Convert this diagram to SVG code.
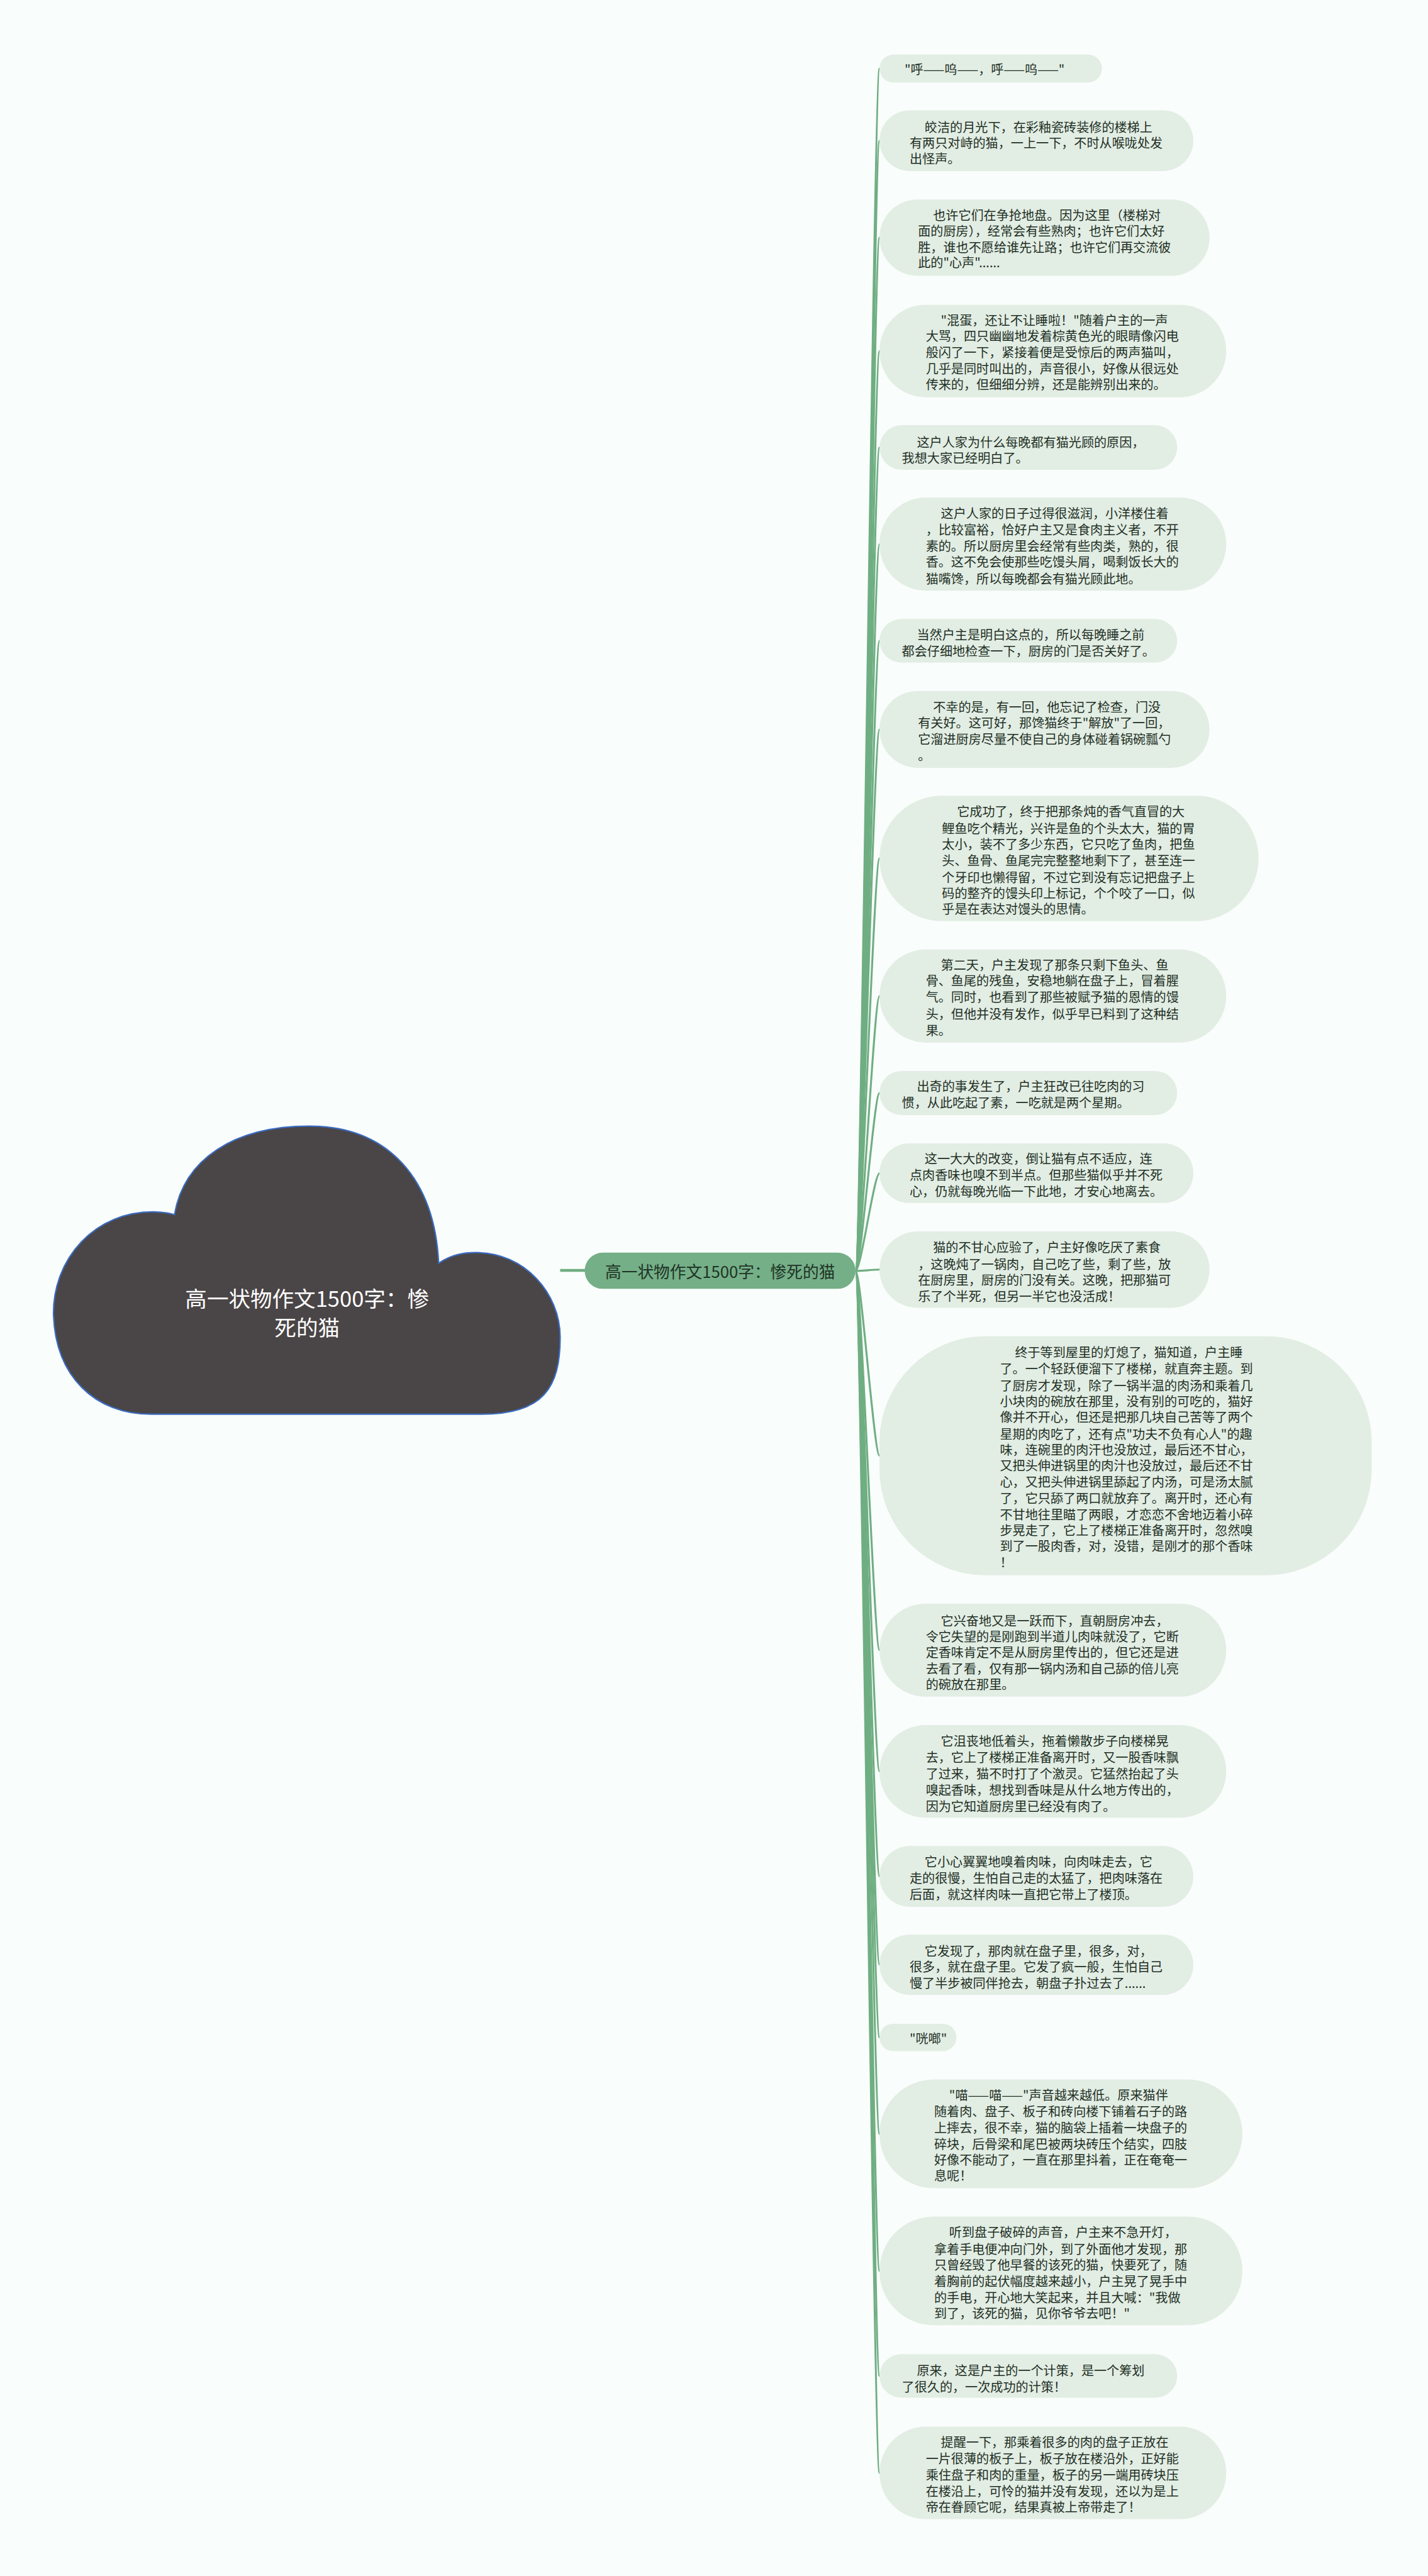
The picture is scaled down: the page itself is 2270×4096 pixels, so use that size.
<svg xmlns="http://www.w3.org/2000/svg" width="2270" height="4096" viewBox="0 0 2270 4096">
<defs>
<style>
.bg{fill:#f9fdfb}
.leaf rect{fill:#e2ede4}
.leaf text{font-family:"Noto Sans CJK SC","Noto Sans",sans-serif;font-size:22.7px;fill:#1f3024;dominant-baseline:central}
.conn path{fill:none;stroke:#6fae82;stroke-width:3.5}
.conn line{stroke:#6fae82;stroke-width:5}
.center rect{fill:#74af87}
.center text{font-family:"Noto Sans CJK SC","Noto Sans",sans-serif;font-size:29px;fill:#1f3326;dominant-baseline:central;text-anchor:middle}
.root path{fill:#4a4546;stroke:#3a6bbf;stroke-width:2.5}
.root text{font-family:"Noto Sans CJK SC","Noto Sans",sans-serif;font-size:39px;fill:#ffffff;dominant-baseline:central;text-anchor:middle}
</style>
</defs>
<rect class="bg" x="0" y="0" width="2270" height="4096"/>
<g transform="scale(0.886)">
<g class="conn" id="connectors">
<line x1="1005" y1="2280" x2="1050" y2="2280"/>
<path d="M1535 2281 C1545 2281 1568 123 1578 123"/>
<path d="M1535 2281 C1545 2281 1568 252.5 1578 252.5"/>
<path d="M1535 2281 C1545 2281 1568 426.5 1578 426.5"/>
<path d="M1535 2281 C1545 2281 1568 630 1578 630"/>
<path d="M1535 2281 C1545 2281 1568 803 1578 803"/>
<path d="M1535 2281 C1545 2281 1568 976.5 1578 976.5"/>
<path d="M1535 2281 C1545 2281 1568 1150 1578 1150"/>
<path d="M1535 2281 C1545 2281 1568 1309 1578 1309"/>
<path d="M1535 2281 C1545 2281 1568 1540.5 1578 1540.5"/>
<path d="M1535 2281 C1545 2281 1568 1787.5 1578 1787.5"/>
<path d="M1535 2281 C1545 2281 1568 1961.5 1578 1961.5"/>
<path d="M1535 2281 C1545 2281 1568 2105.5 1578 2105.5"/>
<path d="M1535 2281 C1545 2281 1568 2278.5 1578 2278.5"/>
<path d="M1535 2281 C1545 2281 1568 2612.5 1578 2612.5"/>
<path d="M1535 2281 C1545 2281 1568 2961.5 1578 2961.5"/>
<path d="M1535 2281 C1545 2281 1568 3179 1578 3179"/>
<path d="M1535 2281 C1545 2281 1568 3367.5 1578 3367.5"/>
<path d="M1535 2281 C1545 2281 1568 3526 1578 3526"/>
<path d="M1535 2281 C1545 2281 1568 3656.5 1578 3656.5"/>
<path d="M1535 2281 C1545 2281 1568 3829.5 1578 3829.5"/>
<path d="M1535 2281 C1545 2281 1568 4075.5 1578 4075.5"/>
<path d="M1535 2281 C1545 2281 1568 4264 1578 4264"/>
<path d="M1535 2281 C1545 2281 1568 4438 1578 4438"/>
</g>
<g class="root" id="root">
<path d="M271 2538 C170 2538 100 2470 96 2360 C94 2260 170 2172 280 2175 Q300 2176 313 2180 C330 2080 420 2021 555 2021 C700 2021 780 2120 787 2267 C810 2252 830 2248 855 2248 C940 2248 1005 2320 1005 2400 C1005 2490 975 2538 864 2538 Z"/>
<text x="551"><tspan x="551" y="2328">高一状物作文1500字：惨</tspan><tspan x="551" y="2380">死的猫</tspan></text>
</g>
<g class="center" id="center">
<rect x="1049" y="2248" width="486" height="65" rx="32.5"/>
<text x="1292" y="2281">高一状物作文1500字：惨死的猫</text>
</g>
<g class="leaf" id="n1"><rect x="1578" y="98" width="399" height="50" rx="25"/>
<text><tspan x="1623" y="123">"呼——呜——，呼——呜——"</tspan></text></g>
<g class="leaf" id="n2"><rect x="1578" y="198" width="563" height="109" rx="54.5"/>
<text><tspan x="1659" y="227">皎洁的月光下，在彩釉瓷砖装修的楼梯上</tspan><tspan x="1632" y="255">有两只对峙的猫，一上一下，不时从喉咙处发</tspan><tspan x="1632" y="283">出怪声。</tspan></text></g>
<g class="leaf" id="n3"><rect x="1578" y="358" width="592" height="137" rx="68.5"/>
<text><tspan x="1674" y="385">也许它们在争抢地盘。因为这里（楼梯对</tspan><tspan x="1647" y="413">面的厨房），经常会有些熟肉；也许它们太好</tspan><tspan x="1647" y="443">胜，谁也不愿给谁先让路；也许它们再交流彼</tspan><tspan x="1647" y="470">此的"心声"......</tspan></text></g>
<g class="leaf" id="n4"><rect x="1578" y="547" width="622" height="166" rx="83"/>
<text><tspan x="1688" y="573">"混蛋，还让不让睡啦！"随着户主的一声</tspan><tspan x="1661" y="602">大骂，四只幽幽地发着棕黄色光的眼睛像闪电</tspan><tspan x="1661" y="631">般闪了一下，紧接着便是受惊后的两声猫叫，</tspan><tspan x="1661" y="660">几乎是同时叫出的，声音很小，好像从很远处</tspan><tspan x="1661" y="689">传来的，但细细分辨，还是能辨别出来的。</tspan></text></g>
<g class="leaf" id="n5"><rect x="1578" y="763" width="534" height="80" rx="40"/>
<text><tspan x="1645" y="792">这户人家为什么每晚都有猫光顾的原因，</tspan><tspan x="1618" y="820">我想大家已经明白了。</tspan></text></g>
<g class="leaf" id="n6"><rect x="1578" y="893" width="622" height="167" rx="83.5"/>
<text><tspan x="1688" y="920">这户人家的日子过得很滋润，小洋楼住着</tspan><tspan x="1661" y="949">，比较富裕，恰好户主又是食肉主义者，不开</tspan><tspan x="1661" y="978">素的。所以厨房里会经常有些肉类，熟的，很</tspan><tspan x="1661" y="1007">香。这不免会使那些吃馒头屑，喝剩饭长大的</tspan><tspan x="1661" y="1037">猫嘴馋，所以每晚都会有猫光顾此地。</tspan></text></g>
<g class="leaf" id="n7"><rect x="1578" y="1111" width="534" height="78" rx="39"/>
<text><tspan x="1645" y="1138">当然户主是明白这点的，所以每晚睡之前</tspan><tspan x="1618" y="1167">都会仔细地检查一下，厨房的门是否关好了。</tspan></text></g>
<g class="leaf" id="n8"><rect x="1578" y="1240" width="592" height="138" rx="69"/>
<text><tspan x="1674" y="1267">不幸的是，有一回，他忘记了检查，门没</tspan><tspan x="1647" y="1296">有关好。这可好，那馋猫终于"解放"了一回，</tspan><tspan x="1647" y="1325">它溜进厨房尽量不使自己的身体碰着锅碗瓢勺</tspan><tspan x="1647" y="1354">。</tspan></text></g>
<g class="leaf" id="n9"><rect x="1578" y="1428" width="680" height="225" rx="112.5"/>
<text><tspan x="1717" y="1455">它成功了，终于把那条炖的香气直冒的大</tspan><tspan x="1690" y="1485">鲤鱼吃个精光，兴许是鱼的个头太大，猫的胃</tspan><tspan x="1690" y="1514">太小，装不了多少东西，它只吃了鱼肉，把鱼</tspan><tspan x="1690" y="1543">头、鱼骨、鱼尾完完整整地剩下了，甚至连一</tspan><tspan x="1690" y="1573">个牙印也懒得留，不过它到没有忘记把盘子上</tspan><tspan x="1690" y="1602">码的整齐的馒头印上标记，个个咬了一口，似</tspan><tspan x="1690" y="1630">乎是在表达对馒头的思情。</tspan></text></g>
<g class="leaf" id="n10"><rect x="1578" y="1704" width="622" height="167" rx="83.5"/>
<text><tspan x="1688" y="1730">第二天，户主发现了那条只剩下鱼头、鱼</tspan><tspan x="1661" y="1759">骨、鱼尾的残鱼，安稳地躺在盘子上，冒着腥</tspan><tspan x="1661" y="1788">气。同时，也看到了那些被赋予猫的恩情的馒</tspan><tspan x="1661" y="1818">头，但他并没有发作，似乎早已料到了这种结</tspan><tspan x="1661" y="1848">果。</tspan></text></g>
<g class="leaf" id="n11"><rect x="1578" y="1922" width="534" height="79" rx="39.5"/>
<text><tspan x="1645" y="1948">出奇的事发生了，户主狂改已往吃肉的习</tspan><tspan x="1618" y="1977">惯，从此吃起了素，一吃就是两个星期。</tspan></text></g>
<g class="leaf" id="n12"><rect x="1578" y="2052" width="563" height="107" rx="53.5"/>
<text><tspan x="1659" y="2078">这一大大的改变，倒让猫有点不适应，连</tspan><tspan x="1632" y="2107">点肉香味也嗅不到半点。但那些猫似乎并不死</tspan><tspan x="1632" y="2137">心，仍就每晚光临一下此地，才安心地离去。</tspan></text></g>
<g class="leaf" id="n13"><rect x="1578" y="2210" width="592" height="137" rx="68.5"/>
<text><tspan x="1674" y="2237">猫的不甘心应验了，户主好像吃厌了素食</tspan><tspan x="1647" y="2267">，这晚炖了一锅肉，自己吃了些，剩了些，放</tspan><tspan x="1647" y="2296">在厨房里，厨房的门没有关。这晚，把那猫可</tspan><tspan x="1647" y="2325">乐了个半死，但另一半它也没活成！</tspan></text></g>
<g class="leaf" id="n14"><rect x="1578" y="2398" width="883" height="429" rx="190"/>
<text><tspan x="1821" y="2425">终于等到屋里的灯熄了，猫知道，户主睡</tspan><tspan x="1794" y="2455">了。一个轻跃便溜下了楼梯，就直奔主题。到</tspan><tspan x="1794" y="2485">了厨房才发现，除了一锅半温的肉汤和乘着几</tspan><tspan x="1794" y="2513">小块肉的碗放在那里，没有别的可吃的，猫好</tspan><tspan x="1794" y="2542">像并不开心，但还是把那几块自己苦等了两个</tspan><tspan x="1794" y="2572">星期的肉吃了，还有点"功夫不负有心人"的趣</tspan><tspan x="1794" y="2600">味，连碗里的肉汗也没放过，最后还不甘心，</tspan><tspan x="1794" y="2629">又把头伸进锅里的肉汁也没放过，最后还不甘</tspan><tspan x="1794" y="2658">心，又把头伸进锅里舔起了内汤，可是汤太腻</tspan><tspan x="1794" y="2687">了，它只舔了两口就放弃了。离开时，还心有</tspan><tspan x="1794" y="2717">不甘地往里瞄了两眼，才恋恋不舍地迈着小碎</tspan><tspan x="1794" y="2745">步晃走了，它上了楼梯正准备离开时，忽然嗅</tspan><tspan x="1794" y="2773">到了一股肉香，对，没错，是刚才的那个香味</tspan><tspan x="1794" y="2802">！</tspan></text></g>
<g class="leaf" id="n15"><rect x="1578" y="2878" width="622" height="167" rx="83.5"/>
<text><tspan x="1688" y="2907">它兴奋地又是一跃而下，直朝厨房冲去，</tspan><tspan x="1661" y="2936">令它失望的是刚跑到半道儿肉味就没了，它断</tspan><tspan x="1661" y="2964">定香味肯定不是从厨房里传出的，但它还是进</tspan><tspan x="1661" y="2993">去看了看，仅有那一锅内汤和自己舔的倍儿亮</tspan><tspan x="1661" y="3022">的碗放在那里。</tspan></text></g>
<g class="leaf" id="n16"><rect x="1578" y="3096" width="622" height="166" rx="83"/>
<text><tspan x="1688" y="3123">它沮丧地低着头，拖着懒散步子向楼梯晃</tspan><tspan x="1661" y="3152">去，它上了楼梯正准备离开时，又一股香味飘</tspan><tspan x="1661" y="3182">了过来，猫不时打了个激灵。它猛然抬起了头</tspan><tspan x="1661" y="3211">嗅起香味，想找到香味是从什么地方传出的，</tspan><tspan x="1661" y="3240">因为它知道厨房里已经没有肉了。</tspan></text></g>
<g class="leaf" id="n17"><rect x="1578" y="3313" width="563" height="109" rx="54.5"/>
<text><tspan x="1659" y="3340">它小心翼翼地嗅着肉味，向肉味走去，它</tspan><tspan x="1632" y="3369">走的很慢，生怕自己走的太猛了，把肉味落在</tspan><tspan x="1632" y="3398">后面，就这样肉味一直把它带上了楼顶。</tspan></text></g>
<g class="leaf" id="n18"><rect x="1578" y="3472" width="563" height="108" rx="54"/>
<text><tspan x="1659" y="3500">它发现了，那肉就在盘子里，很多，对，</tspan><tspan x="1632" y="3528">很多，就在盘子里。它发了疯一般，生怕自己</tspan><tspan x="1632" y="3557">慢了半步被同伴抢去，朝盘子扑过去了......</tspan></text></g>
<g class="leaf" id="n19"><rect x="1578" y="3632" width="138" height="49" rx="24.5"/>
<text><tspan x="1632" y="3657">"咣啷"</tspan></text></g>
<g class="leaf" id="n20"><rect x="1578" y="3732" width="651" height="195" rx="97.5"/>
<text><tspan x="1703" y="3758">"喵——喵——"声音越来越低。原来猫伴</tspan><tspan x="1676" y="3788">随着肉、盘子、板子和砖向楼下铺着石子的路</tspan><tspan x="1676" y="3817">上摔去，很不幸，猫的脑袋上插着一块盘子的</tspan><tspan x="1676" y="3847">碎块，后骨梁和尾巴被两块砖压个结实，四肢</tspan><tspan x="1676" y="3875">好像不能动了，一直在那里抖着，正在奄奄一</tspan><tspan x="1676" y="3903">息呢！</tspan></text></g>
<g class="leaf" id="n21"><rect x="1578" y="3978" width="651" height="195" rx="97.5"/>
<text><tspan x="1703" y="4005">听到盘子破碎的声音，户主来不急开灯，</tspan><tspan x="1676" y="4035">拿着手电便冲向门外，到了外面他才发现，那</tspan><tspan x="1676" y="4063">只曾经毁了他早餐的该死的猫，快要死了，随</tspan><tspan x="1676" y="4093">着胸前的起伏幅度越来越小，户主晃了晃手中</tspan><tspan x="1676" y="4122">的手电，开心地大笑起来，并且大喊："我做</tspan><tspan x="1676" y="4150">到了，该死的猫，见你爷爷去吧！"</tspan></text></g>
<g class="leaf" id="n22"><rect x="1578" y="4225" width="534" height="78" rx="39"/>
<text><tspan x="1645" y="4253">原来，这是户主的一个计策，是一个筹划</tspan><tspan x="1618" y="4282">了很久的，一次成功的计策！</tspan></text></g>
<g class="leaf" id="n23"><rect x="1578" y="4355" width="622" height="166" rx="83"/>
<text><tspan x="1688" y="4382">提醒一下，那乘着很多的肉的盘子正放在</tspan><tspan x="1661" y="4411">一片很薄的板子上，板子放在楼沿外，正好能</tspan><tspan x="1661" y="4440">乘住盘子和肉的重量，板子的另一端用砖块压</tspan><tspan x="1661" y="4469">在楼沿上，可怜的猫并没有发现，还以为是上</tspan><tspan x="1661" y="4498">帝在眷顾它呢，结果真被上帝带走了！</tspan></text></g>
</g>
</svg>
